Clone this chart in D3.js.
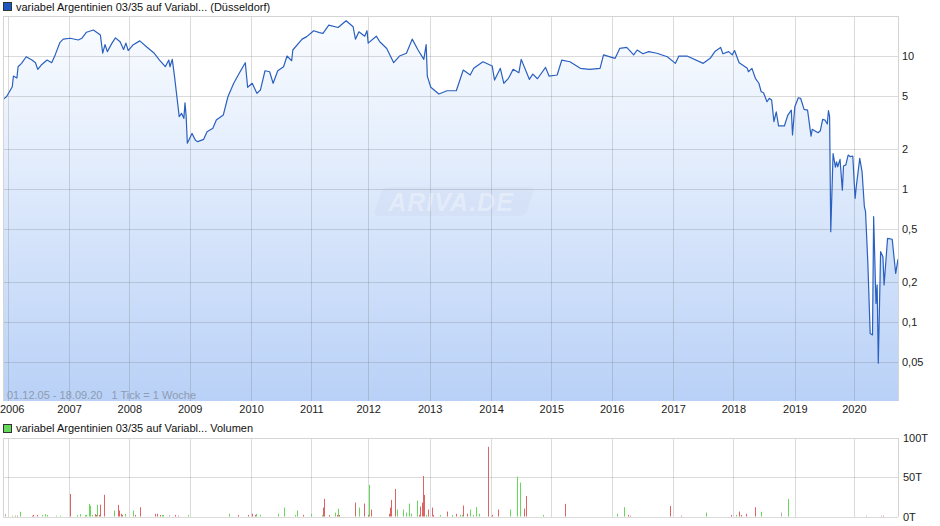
<!DOCTYPE html>
<html>
<head>
<meta charset="utf-8">
<script src="https://cdnjs.cloudflare.com/ajax/libs/d3/7.8.5/d3.min.js"></script>
<style>
    body { margin: 0; background: #fff; }
    svg { display: block; font-family: "Liberation Sans", Arial, sans-serif; font-size: 11px; }
    .grid line { stroke: rgba(110, 110, 110, 0.25); shape-rendering: crispEdges; }
    .tick-label { fill: #222; }
</style>
</head>
<body>
<div id="vis"></div>
<script>
// weekly ticks since 01.12.05 (x axis counts trading weeks, not calendar time)
var weekIdx = [0, 3, 8, 9, 12, 13, 16, 20, 25, 28, 30, 33, 38, 42, 45, 49, 52, 58, 65, 68, 72, 78, 84, 86, 88, 90, 94, 97, 101, 104, 106, 108, 112, 118, 124, 130, 135, 140, 143, 144, 146, 148, 150, 152, 154, 156, 157, 158, 159, 163, 166, 168, 173, 176, 181, 184, 190, 194, 199, 204, 209, 211, 215, 219, 222, 226, 230, 233, 237, 242, 245, 249, 250, 258, 262, 268, 273, 276, 281, 289, 296, 302, 304, 307, 312, 314, 315, 322, 325, 331, 337, 342, 348, 353, 358, 363, 365, 366, 369, 376, 383, 391, 397, 403, 406, 414, 422, 424, 429, 432, 436, 440, 445, 447, 454, 457, 461, 468, 471, 478, 482, 489, 498, 506, 515, 518, 525, 528, 532, 538, 544, 547, 552, 557, 564, 573, 580, 583, 590, 604, 610, 614, 619, 621, 626, 629, 631, 635, 642, 643, 646, 649, 652, 654, 656, 659, 661, 663, 665, 667, 669, 674, 677, 680, 681, 683, 686, 688, 691, 694, 697, 698, 703, 705, 707, 709, 711, 712, 713, 714, 716, 718, 719, 720, 722, 724, 725, 727, 729, 731, 733, 735, 736, 739, 741, 743, 744, 746, 748, 750, 751, 753, 754, 755, 757, 759, 760, 763, 767, 770, 772];
var price = [4.72, 4.94, 5.88, 7.07, 6.83, 8.31, 8.81, 9.88, 9.33, 8.91, 7.94, 8.56, 9.33, 8.91, 10.2, 12.6, 13.4, 13.6, 13.2, 13.6, 15.1, 15.7, 14.4, 10.5, 12.2, 10.8, 12.5, 13.7, 12.8, 11.2, 12.5, 11.0, 12.1, 13.0, 11.7, 10.6, 9.33, 8.31, 9.33, 8.31, 9.44, 6.98, 4.94, 3.50, 3.71, 3.40, 4.45, 3.50, 2.21, 2.62, 2.33, 2.27, 2.36, 2.70, 2.86, 3.30, 3.60, 4.94, 6.24, 7.49, 8.91, 5.82, 6.24, 5.24, 5.55, 7.75, 7.62, 6.24, 7.75, 8.31, 10.0, 9.22, 11.1, 13.4, 14.0, 15.5, 15.0, 14.8, 17.1, 16.4, 18.4, 16.6, 13.4, 15.2, 14.1, 15.5, 12.5, 14.1, 12.8, 11.4, 8.91, 10.0, 10.5, 13.4, 11.1, 9.44, 12.2, 7.07, 5.82, 5.18, 5.48, 5.48, 7.85, 7.20, 8.08, 9.06, 8.41, 6.60, 8.08, 6.24, 6.80, 7.94, 7.49, 9.44, 6.68, 7.32, 6.75, 8.22, 7.07, 7.20, 9.33, 9.06, 8.08, 7.94, 8.08, 10.2, 9.78, 9.61, 11.4, 11.6, 10.2, 11.1, 10.4, 10.8, 10.5, 9.88, 8.81, 10.0, 10.0, 8.81, 9.61, 10.8, 11.6, 10.4, 10.8, 10.2, 11.0, 8.91, 8.08, 7.62, 8.08, 6.80, 6.24, 5.39, 5.30, 4.53, 4.81, 4.67, 3.21, 3.81, 2.98, 2.98, 3.60, 3.92, 2.55, 4.16, 4.86, 4.81, 3.97, 3.92, 2.50, 2.81, 2.65, 2.74, 3.34, 3.30, 3.08, 3.88, 3.50, 0.477, 1.85, 1.46, 1.60, 1.47, 1.67, 0.98, 1.49, 1.52, 1.80, 1.75, 1.77, 0.851, 1.04, 1.70, 1.35, 0.736, 0.675, 0.276, 0.082, 0.080, 0.619, 0.138, 0.190, 0.049, 0.338, 0.31, 0.19, 0.426, 0.419, 0.232, 0.297];

// volume in thousands (T); dir: 1 up (green), -1 down (red), 0 unchanged
var volWeek = [2, 8, 10, 12, 15, 25, 26, 29, 34, 36, 38, 46, 49, 58, 64, 66, 71, 72, 74, 75, 77, 79, 80, 81, 83, 84, 87, 96, 99, 100, 102, 103, 105, 112, 114, 118, 131, 133, 135, 137, 138, 143, 148, 151, 160, 195, 203, 211, 215, 217, 218, 222, 237, 242, 252, 254, 259, 266, 275, 276, 277, 281, 286, 288, 289, 290, 304, 307, 311, 315, 316, 317, 333, 334, 335, 338, 340, 345, 348, 350, 352, 357, 359, 360, 361, 362, 363, 365, 367, 370, 371, 377, 383, 387, 391, 394, 396, 397, 400, 403, 405, 408, 411, 418, 422, 427, 437, 443, 446, 449, 451, 466, 485, 530, 536, 539, 541, 575, 585, 606, 628, 632, 635, 637, 641, 649, 654, 671, 677, 744, 757, 759];
var volValue = [3, 1, 1, 1, 6, 1, 2, 2, 2, 3, 2, 1, 1, 28.5, 2, 3, 2, 2, 16, 13.5, 2, 3, 2, 15, 2, 15, 27.5, 7.6, 14.7, 7.6, 3.4, 2, 3.4, 7.6, 2, 11.8, 3.4, 3.4, 2, 2, 2, 2, 2, 1, 2, 3.4, 2, 2, 3.4, 2, 3.4, 2, 3.4, 11.3, 2, 7.6, 2, 3.4, 2, 11.3, 22.3, 2, 5, 2, 10, 2, 17.6, 11.3, 16.4, 2, 40, 8.8, 3.4, 11.3, 21, 34.9, 8.8, 8.8, 5, 16.4, 3.4, 20.2, 2, 12.6, 17.6, 51.3, 27.3, 2, 8.8, 11.3, 2, 2, 6.3, 2, 3.4, 2, 2, 13.9, 3.4, 8.8, 2, 11.8, 3.4, 88.2, 2, 8.8, 8.8, 50.4, 42.9, 10, 26, 2, 16, 3.4, 11.8, 2, 1, 13.4, 1, 5, 2, 2, 6.3, 2, 3.4, 11.8, 5.9, 5, 22.3, 1, 1, 1];
var volDir = [0, 1, -1, -1, 1, -1, -1, -1, 1, 1, 1, 1, 1, -1, 1, 1, 1, 1, 1, 1, 1, -1, -1, 1, -1, -1, -1, 1, -1, -1, -1, -1, 1, 1, -1, -1, -1, -1, -1, 1, 1, 0, -1, -1, 1, 1, -1, -1, -1, -1, 1, 1, 1, 1, 1, 1, -1, 1, 1, -1, -1, -1, 1, -1, 1, -1, -1, 1, -1, -1, 1, -1, -1, -1, -1, -1, 1, 1, 1, 1, 1, 1, -1, -1, -1, -1, -1, 1, -1, -1, -1, 1, -1, 1, -1, 1, 1, -1, -1, 1, 1, 1, 1, -1, -1, -1, 1, 1, 1, -1, -1, 1, -1, 1, 1, -1, -1, -1, -1, 1, -1, 1, -1, -1, -1, -1, 1, 0, 1, 1, 0, -1];

var yearLabels = ['2006', '2007', '2008', '2009', '2010', '2011', '2012', '2013', '2014', '2015', '2016', '2017', '2018', '2019', '2020'];
var yearWeeks = [4, 57, 109, 161, 214, 266, 315, 368, 421, 473, 525, 578, 630, 683, 734];

var priceTicks = [10, 5, 2, 1, 0.5, 0.2, 0.1, 0.05];
var priceTickLabels = ['10', '5', '2', '1', '0,5', '0,2', '0,1', '0,05'];
var volTicks = [100, 50, 0];
var volTickLabels = ['100T', '50T', '0T'];

var width = 940;
var height = 526;
var plot = { left: 3, right: 898, top: 16, bottom: 401 };
var vol = { top: 437.5, bottom: 516.5 };

var svg = d3.select('#vis')
            .append('svg')
            .attr('width', width)
            .attr('height', height);

var xScale = d3.scaleLinear().domain([0, 772]).range([plot.left, plot.right]);
var yScale = d3.scaleLog().domain([0.02547, 20]).range([plot.bottom, plot.top]);
var vScale = d3.scaleLinear().domain([0, 100]).range([vol.bottom, vol.top]);

var px = function(v) { return Math.round(v) + 0.5; };

////////////////////////////////////Price panel////////////////////////////////////
var defs = svg.append('defs');
var grad = defs.append('linearGradient')
               .attr('id', 'fillGrad')
               .attr('gradientUnits', 'userSpaceOnUse')
               .attr('x1', 0).attr('y1', plot.top)
               .attr('x2', 0).attr('y2', plot.bottom);
grad.append('stop').attr('offset', '0%').attr('stop-color', '#fbfdff');
grad.append('stop').attr('offset', '100%').attr('stop-color', '#b9d1f7');

defs.append('clipPath').attr('id', 'plotClip')
    .append('rect')
    .attr('x', plot.left).attr('y', plot.top)
    .attr('width', plot.right - plot.left).attr('height', plot.bottom - plot.top);

var series = weekIdx.map(function(w, i) { return { w: w, v: price[i] }; });

var area = d3.area()
             .x(function(d) { return xScale(d.w); })
             .y0(plot.bottom)
             .y1(function(d) { return yScale(d.v); });

var line = d3.line()
             .x(function(d) { return xScale(d.w); })
             .y(function(d) { return yScale(d.v); });

svg.append('path')
   .datum(series)
   .attr('clip-path', 'url(#plotClip)')
   .attr('d', area)
   .attr('fill', 'url(#fillGrad)');

// grid on top of the fill, like the original
var grid = svg.append('g').attr('class', 'grid');
grid.selectAll('.hline')
    .data(priceTicks)
    .enter().append('line')
    .attr('x1', plot.left).attr('x2', plot.right)
    .attr('y1', function(d) { return px(yScale(d)); })
    .attr('y2', function(d) { return px(yScale(d)); });
grid.selectAll('.vline')
    .data(yearWeeks)
    .enter().append('line')
    .attr('x1', function(d) { return px(xScale(d)); })
    .attr('x2', function(d) { return px(xScale(d)); })
    .attr('y1', plot.top).attr('y2', plot.bottom);

// watermark
var wm = svg.append('g').attr('transform', 'translate(451, 202)');
wm.append('path')
  .attr('d', 'M-62,-15 L78,-15 Q84,-15 82,-9 L76,9 Q74,14 68,14 L-72,14 Q-78,14 -76,8 L-70,-9 Q-68,-15 -62,-15 Z')
  .attr('fill', 'rgba(150, 170, 205, 0.08)');
wm.append('text')
  .attr('x', 0).attr('y', 9)
  .attr('text-anchor', 'middle')
  .style('font-size', '25px')
  .style('font-weight', 'bold')
  .style('font-style', 'italic')
  .style('letter-spacing', '1px')
  .attr('fill', 'rgba(255, 255, 255, 0.35)')
  .text('ARIVA.DE');

svg.append('path')
   .datum(series)
   .attr('clip-path', 'url(#plotClip)')
   .attr('d', line)
   .attr('fill', 'none')
   .attr('stroke', '#2a60c0')
   .attr('stroke-width', 1.2)
   .attr('stroke-linejoin', 'round');

// frame
svg.append('path')
   .attr('d', 'M' + (plot.left + 0.5) + ',' + plot.bottom + 'V' + (plot.top + 0.5) + 'H' + (plot.right + 0.5) + 'V' + plot.bottom)
   .attr('fill', 'none')
   .attr('stroke', '#d4d4d4')
   .style('shape-rendering', 'crispEdges');

svg.selectAll('.ylab')
   .data(priceTicks)
   .enter().append('text')
   .attr('class', 'tick-label')
   .attr('x', 902)
   .attr('y', function(d) { return yScale(d) + 4; })
   .text(function(d, i) { return priceTickLabels[i]; });

// first year label sits at the left edge, keep it inside the picture
svg.selectAll('.xlab')
   .data(yearWeeks)
   .enter().append('text')
   .attr('class', 'tick-label')
   .attr('x', function(d, i) { return i === 0 ? 0 : xScale(d) + 0.5; })
   .attr('y', 413)
   .attr('text-anchor', function(d, i) { return i === 0 ? 'start' : 'middle'; })
   .text(function(d, i) { return yearLabels[i]; });

svg.append('text')
   .attr('x', 7).attr('y', 399)
   .attr('fill', '#8e9bb0')
   .text('01.12.05 - 18.09.20   1 Tick = 1 Woche')
   .style('white-space', 'pre');

// legend
svg.append('rect')
   .attr('x', 3.5).attr('y', 2.5).attr('width', 8).attr('height', 8)
   .attr('fill', '#1d57c0').attr('stroke', '#333');
svg.append('text')
   .attr('x', 16).attr('y', 10.5)
   .attr('fill', '#111')
   .text('variabel Argentinien 03/35 auf Variabl... (Düsseldorf)');

////////////////////////////////////Volume panel////////////////////////////////////
var vgrid = svg.append('g').attr('class', 'grid');
vgrid.selectAll('.hline')
     .data(volTicks)
     .enter().append('line')
     .attr('x1', plot.left).attr('x2', plot.right)
     .attr('y1', function(d) { return px(vScale(d)); })
     .attr('y2', function(d) { return px(vScale(d)); });
vgrid.selectAll('.vline')
     .data(yearWeeks)
     .enter().append('line')
     .attr('x1', function(d) { return px(xScale(d)); })
     .attr('x2', function(d) { return px(xScale(d)); })
     .attr('y1', vol.top).attr('y2', vol.bottom);

svg.append('path')
   .attr('d', 'M' + (plot.left + 0.5) + ',' + vol.bottom + 'V' + (px(vol.top)) + 'H' + (plot.right + 0.5) + 'V' + vol.bottom)
   .attr('fill', 'none')
   .attr('stroke', '#d4d4d4')
   .style('shape-rendering', 'crispEdges');

var volColor = function(d) {
    if (d > 0) return '#66d95c';
    if (d < 0) return '#dd6464';
    return '#b0b0b0';
};

svg.selectAll('.vbar')
   .data(volWeek)
   .enter().append('rect')
   .attr('class', 'vbar')
   .attr('x', function(d) { return Math.round(xScale(d)); })
   .attr('width', 1)
   .attr('y', function(d, i) { return vScale(volValue[i]); })
   .attr('height', function(d, i) { return vScale(0) - vScale(volValue[i]); })
   .attr('fill', function(d, i) { return volColor(volDir[i]); });

svg.selectAll('.vlab')
   .data(volTicks)
   .enter().append('text')
   .attr('class', 'tick-label')
   .attr('x', 903)
   .attr('y', function(d) { return vScale(d) + 4; })
   .text(function(d, i) { return volTickLabels[i]; });

svg.append('rect')
   .attr('x', 3.5).attr('y', 424.5).attr('width', 8).attr('height', 8)
   .attr('fill', '#66d95c').attr('stroke', '#333');
svg.append('text')
   .attr('x', 16).attr('y', 432)
   .attr('fill', '#111')
   .text('variabel Argentinien 03/35 auf Variabl... Volumen');
</script>
</body>
</html>
